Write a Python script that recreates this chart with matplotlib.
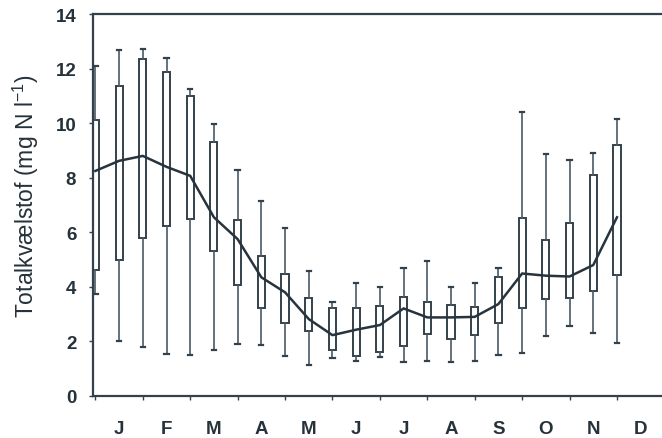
"""
Seasonal variation of total nitrogen: half-monthly box plots with the mean curve.
Writes out.png
"""

import matplotlib

matplotlib.use("Agg")
import matplotlib.pyplot as plt

# half-month sampling positions (in months from 1 January)
positions = [i * 0.5 for i in range(23)]

# box statistics per half-month (mg N/l)
whisk_lo = [3.74, 2.00, 1.78, 1.54, 1.50, 1.68, 1.90, 1.88, 1.45, 1.14, 1.38, 1.27,
            1.44, 1.26, 1.29, 1.23, 1.27, 1.51, 1.58, 2.19, 2.55, 2.31, 1.93]
q1 = [4.60, 4.98, 5.79, 6.24, 6.48, 5.30, 4.07, 3.22, 2.67, 2.37, 1.70, 1.48,
      1.62, 1.84, 2.27, 2.09, 2.25, 2.66, 3.21, 3.55, 3.58, 3.86, 4.43]
q3 = [10.10, 11.37, 12.34, 11.86, 11.00, 9.32, 6.46, 5.14, 4.47, 3.61, 3.21, 3.21,
      3.29, 3.64, 3.45, 3.33, 3.25, 4.35, 6.51, 5.71, 6.34, 8.11, 9.19]
whisk_hi = [12.10, 12.67, 12.73, 12.38, 11.27, 9.96, 8.29, 7.13, 6.14, 4.59, 3.45, 4.14,
            3.98, 4.68, 4.93, 3.98, 4.13, 4.68, 10.41, 8.86, 8.66, 8.89, 10.17]
mean_n = [8.25, 8.62, 8.80, 8.40, 8.07, 6.55, 5.75, 4.35, 3.80, 2.82, 2.23, 2.43,
          2.60, 3.21, 2.88, 2.88, 2.90, 3.37, 4.49, 4.41, 4.38, 4.80, 6.55]

months = ["J", "F", "M", "A", "M", "J", "J", "A", "S", "O", "N", "D"]

plt.rcParams["font.family"] = ["Liberation Sans", "DejaVu Sans"]
plt.rcParams["mathtext.default"] = "regular"

ink = "#33414b"

fig = plt.figure(figsize=(6.62, 4.39), dpi=100)
ax = fig.add_axes([0.1405, 0.0957, 0.8595, 0.8700])

stats = []
for lo, a, b, hi, m in zip(whisk_lo, q1, q3, whisk_hi, mean_n):
    stats.append({"whislo": lo, "q1": a, "med": m, "q3": b, "whishi": hi, "fliers": []})

ax.bxp(
    stats,
    positions=positions,
    widths=0.15,
    showfliers=False,
    patch_artist=True,
    boxprops=dict(facecolor="white", edgecolor=ink, linewidth=1.4),
    whiskerprops=dict(color="#4a5a66", linewidth=1.2),
    capprops=dict(color=ink, linewidth=1.6),
    medianprops=dict(linewidth=0),
    capwidths=0.09,
    zorder=2,
)

ax.plot(positions, mean_n, color="#27343d", lw=1.8, zorder=3)

ax.set_ylim(0, 14)
ax.set_xlim(-0.05, 11.95)
ax.set_yticks(range(0, 15, 2))

# month ticks at month boundaries, letters centred in between
ax.set_xticks(range(12))
ax.set_xticklabels([])
ax.set_xticks([m + 0.5 for m in range(12)], minor=True)
ax.set_xticklabels(months, minor=True)
ax.tick_params(axis="x", which="major", length=3, width=1, color=ink)
ax.tick_params(axis="x", which="minor", length=0, pad=17, labelsize=13.5)
ax.tick_params(axis="y", length=3, width=1, color=ink, labelsize=13.5, pad=9)
for lab in ax.get_xticklabels(minor=True) + ax.get_yticklabels():
    lab.set_fontweight("bold")
    lab.set_color("#26323a")

for side in ("left", "bottom", "top"):
    ax.spines[side].set_color(ink)
    ax.spines[side].set_linewidth(1.6)
ax.spines["right"].set_visible(False)

ax.set_ylabel("Totalkvælstof (mg N l$^{-1}$)", fontsize=16.5, color="#26323a")
ax.yaxis.set_label_coords(-0.092, 0.525)

fig.savefig("out.png", dpi=100)
